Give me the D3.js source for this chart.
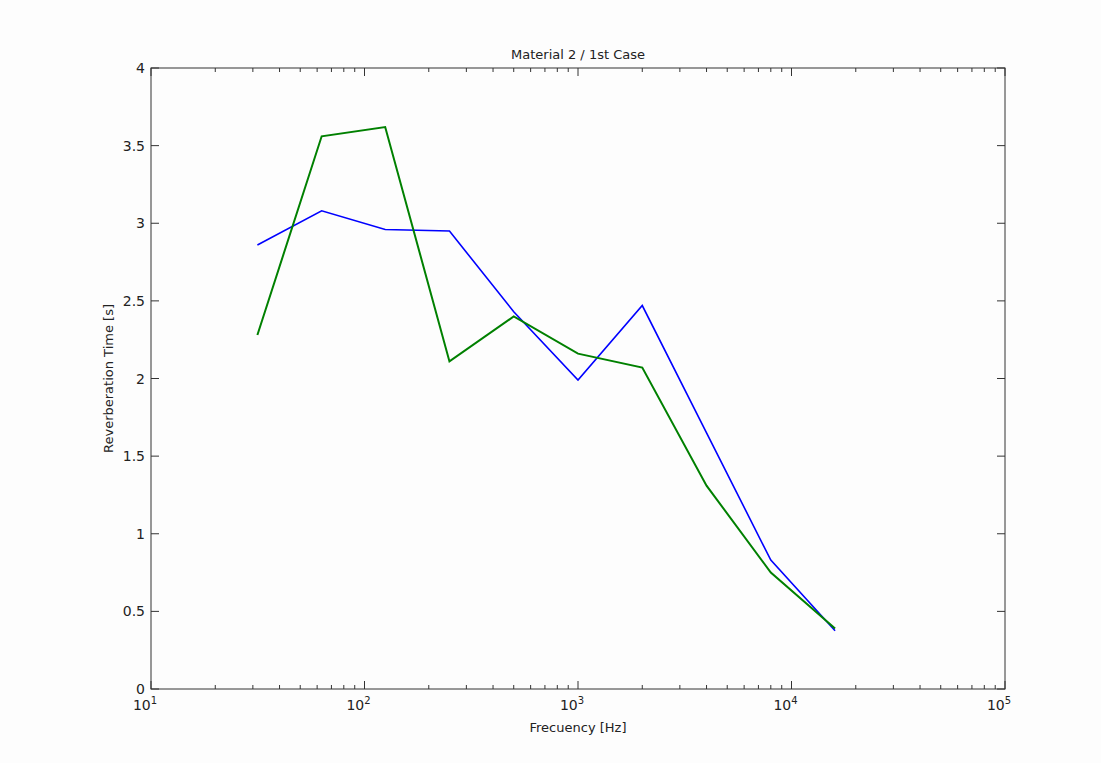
<!DOCTYPE html>
<html>
<head>
<meta charset="utf-8">
<script src="https://cdn.jsdelivr.net/npm/d3@7"></script>
<style>
  body { margin: 0; background: #fdfdfd; }
  text { font-family: "DejaVu Sans", sans-serif; fill: #222; }
</style>
</head>
<body>
<div class="container"></div>
<script>
// Octave band centre frequencies and reverberation times
const freqs = [31.5, 63, 125, 250, 500, 1000, 2000, 4000, 8000, 16000];
const blueT = [2.86, 3.08, 2.96, 2.95, 2.43, 1.99, 2.47, 1.65, 0.83, 0.375];
const greenT = [2.28, 3.56, 3.62, 2.11, 2.40, 2.16, 2.07, 1.31, 0.75, 0.39];
const yTicks = [0, 0.5, 1, 1.5, 2, 2.5, 3, 3.5, 4];
const decades = [1, 2, 3, 4, 5];

const width = 1101, height = 763;
const margin = { left: 151, right: 96, top: 68, bottom: 74 };

const svg = d3.select(".container").append("svg")
    .attr("width", width)
    .attr("height", height);

const x = d3.scaleLog().domain([10, 1e5]).range([margin.left, width - margin.right]);
const y = d3.scaleLinear().domain([0, 4]).range([height - margin.bottom, margin.top]);

const x0 = x.range()[0], x1 = x.range()[1];
const y0 = y.range()[0], y1 = y.range()[1];

// minor log ticks
const minor = [];
for (let d = 1; d < 5; d++) {
    for (let m = 2; m <= 9; m++) minor.push(m * Math.pow(10, d));
}

const ticks = svg.append("g").attr("stroke", "#333").attr("stroke-width", 1);
minor.forEach(v => {
    ticks.append("line").attr("x1", x(v)).attr("x2", x(v)).attr("y1", y0).attr("y2", y0 - 4);
    ticks.append("line").attr("x1", x(v)).attr("x2", x(v)).attr("y1", y1).attr("y2", y1 + 4);
});
decades.forEach(e => {
    const v = Math.pow(10, e);
    ticks.append("line").attr("x1", x(v)).attr("x2", x(v)).attr("y1", y0).attr("y2", y0 - 8);
    ticks.append("line").attr("x1", x(v)).attr("x2", x(v)).attr("y1", y1).attr("y2", y1 + 8);
});
yTicks.forEach(v => {
    ticks.append("line").attr("x1", x0).attr("x2", x0 + 8).attr("y1", y(v)).attr("y2", y(v));
    ticks.append("line").attr("x1", x1).attr("x2", x1 - 8).attr("y1", y(v)).attr("y2", y(v));
});

// axes box
svg.append("rect")
    .attr("x", x0).attr("y", y1)
    .attr("width", x1 - x0).attr("height", y0 - y1)
    .attr("fill", "none").attr("stroke", "#333").attr("stroke-width", 1);

// y tick labels
svg.append("g").selectAll("text").data(yTicks).enter().append("text")
    .attr("x", x0 - 6).attr("y", d => y(d) + 5)
    .attr("text-anchor", "end")
    .attr("font-size", 14)
    .text(d => d);

// x tick labels 10^n
const xl = svg.append("g").selectAll("text").data(decades).enter().append("text")
    .attr("x", d => x(Math.pow(10, d)) - 6)
    .attr("y", y0 + 21)
    .attr("text-anchor", "middle")
    .attr("font-size", 14);
xl.append("tspan").text("10");
xl.append("tspan").attr("dy", -6).attr("font-size", 10).text(d => d);

// lines
const line = d3.line().x(d => x(d[0])).y(d => y(d[1]));
svg.append("path").datum(freqs.map((f, i) => [f, blueT[i]]))
    .attr("fill", "none").attr("stroke", "#0000ff").attr("stroke-width", 1.6)
    .attr("d", line);
svg.append("path").datum(freqs.map((f, i) => [f, greenT[i]]))
    .attr("fill", "none").attr("stroke", "#008000").attr("stroke-width", 2)
    .attr("d", line);

// title and labels
svg.append("text").attr("x", (x0 + x1) / 2).attr("y", y1 - 9)
    .attr("text-anchor", "middle").attr("font-size", 13)
    .text("Material 2 / 1st Case");
svg.append("text").attr("x", (x0 + x1) / 2).attr("y", y0 + 43)
    .attr("text-anchor", "middle").attr("font-size", 13)
    .text("Frecuency [Hz]");
svg.append("text")
    .attr("transform", `translate(${x0 - 38},${(y0 + y1) / 2}) rotate(-90)`)
    .attr("text-anchor", "middle").attr("font-size", 13)
    .text("Reverberation Time [s]");
</script>
</body>
</html>
